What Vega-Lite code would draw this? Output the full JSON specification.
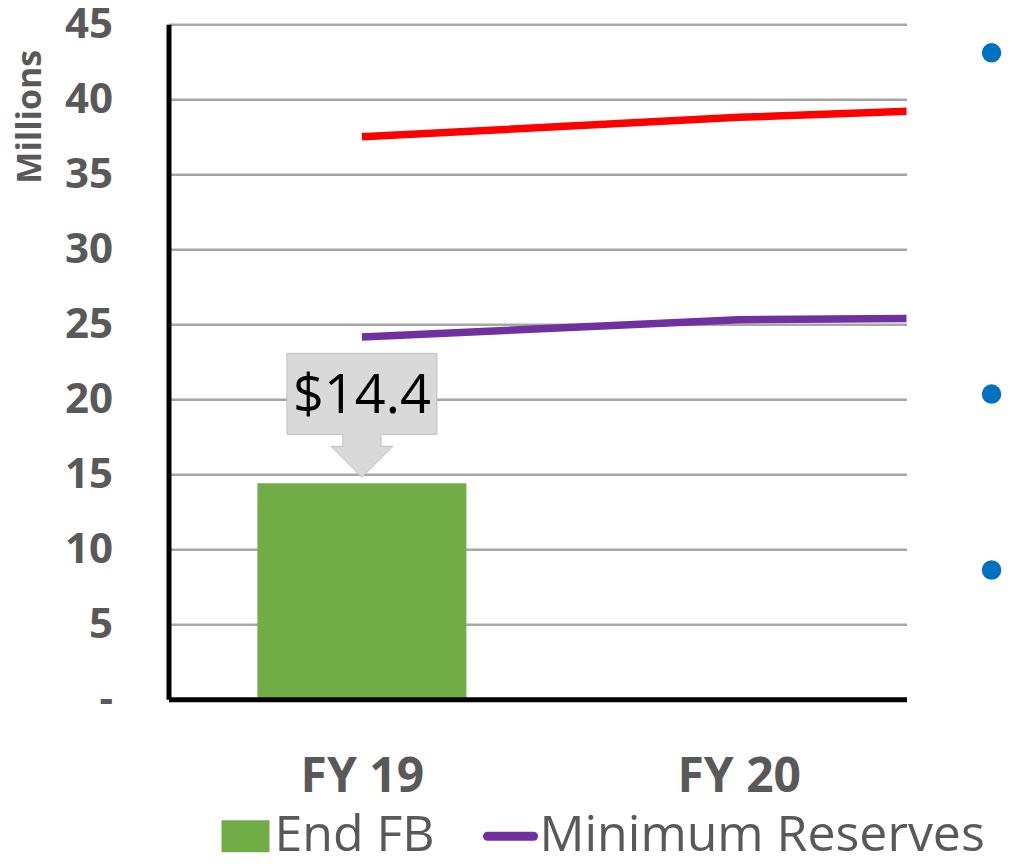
{
  "$schema": "https://vega.github.io/schema/vega-lite/v6.json",
  "width": 738,
  "height": 675,
  "autosize": {"type": "none"},
  "padding": {"left": 168.5, "top": 24.3, "right": 105.5, "bottom": 164.7},
  "background": "white",
  "config": {"view": {"stroke": null}, "font": "Open Sans"},
  "datasets": {
    "chart": [
      {"fy": 19, "series": "End FB", "value": 14.4},
      {"fy": 19, "series": "Minimum Reserves", "value": 24.15},
      {"fy": 20, "series": "Minimum Reserves", "value": 25.3},
      {"fy": 21, "series": "Minimum Reserves", "value": 25.5},
      {"fy": 19, "series": "Maximum Reserves", "value": 37.5},
      {"fy": 20, "series": "Maximum Reserves", "value": 38.8},
      {"fy": 21, "series": "Maximum Reserves", "value": 39.7}
    ],
    "bullets": [
      {"bx": 20.671, "by": 43.1},
      {"bx": 20.671, "by": 20.35},
      {"bx": 20.671, "by": 8.62}
    ]
  },
  "encoding": {
    "x": {
      "field": "fy", "type": "quantitative",
      "scale": {"type": "linear", "domain": [18.5, 20.432], "nice": false, "zero": false},
      "axis": {
        "title": null, "values": [19, 20], "labelExpr": "'FY ' + datum.value",
        "labelFont": "Open Sans", "labelFontSize": 48, "labelFontWeight": "bold", "labelColor": "#595959",
        "labelPadding": 54, "ticks": false, "grid": false, "domainColor": "#000000", "domainWidth": 5,
        "labelFlush": false, "labelOverlap": false, "zindex": 1
      }
    },
    "y": {
      "field": "value", "type": "quantitative",
      "scale": {"domain": [0, 45], "nice": false, "zero": true},
      "axis": {
        "title": "Millions", "values": [0, 5, 10, 15, 20, 25, 30, 35, 40, 45],
        "labelExpr": "datum.value === 0 ? '-\u00a0\u00a0' : datum.label",
        "labelFont": "Open Sans", "labelFontSize": 42, "labelFontWeight": "bold", "labelColor": "#595959",
        "labelPadding": 56, "ticks": false, "domainColor": "#000000", "domainWidth": 5,
        "gridColor": "#a6a6a6", "gridWidth": 2.5, "labelFlush": false, "labelOverlap": false,
        "titleFont": "Open Sans", "titleFontSize": 34, "titleFontWeight": "bold", "titleColor": "#595959",
        "titleAngle": -90, "titleAlign": "right", "titleBaseline": "alphabetic", "titleX": -128.5, "titleY": 25
      }
    }
  },
  "layer": [
    {
      "data": {"name": "chart"},
      "transform": [{"filter": "datum.series === 'End FB'"}],
      "mark": {"type": "bar", "width": 209},
      "encoding": {
        "color": {
          "field": "series", "type": "nominal",
          "scale": {"domain": ["End FB", "Minimum Reserves", "Maximum Reserves"], "range": ["#70ad47", "#7030a0", "#ff0000"]},
          "legend": {
            "values": ["End FB", "Minimum Reserves"], "title": null, "orient": "none", "direction": "horizontal",
            "legendX": 52, "legendY": 787, "labelFont": "Open Sans", "labelFontSize": 50, "labelColor": "#595959",
            "labelLimit": 1000, "labelOffset": 4, "columnPadding": 34, "symbolSize": 3025, "padding": 0,
            "encode": {
              "symbols": {
                "update": {
                  "shape": {"signal": "datum.value === 'End FB' ? 'M-1,-0.667H1V0.667H-1Z' : 'stroke'"},
                  "size": {"signal": "datum.value === 'End FB' ? 2304 : 2116"},
                  "fill": {"signal": "datum.value === 'End FB' ? '#70ad47' : 'transparent'"},
                  "stroke": {"signal": "datum.value === 'End FB' ? 'transparent' : '#7030a0'"},
                  "strokeWidth": {"signal": "datum.value === 'End FB' ? 0 : 9"},
                  "strokeCap": {"value": "round"},
                  "opacity": {"value": 1},
                  "fillOpacity": {"value": 1},
                  "strokeOpacity": {"value": 1}
                }
              }
            }
          }
        }
      }
    },
    {
      "data": {"name": "chart"},
      "transform": [{"filter": "datum.series !== 'End FB'"}],
      "mark": {"type": "line", "strokeWidth": 7.5, "clip": true},
      "encoding": {
        "color": {"field": "series", "type": "nominal"}
      }
    },
    {
      "data": {"name": "chart"},
      "transform": [{"filter": "datum.series === 'End FB'"}],
      "mark": {
        "type": "point", "shape": "M-75,-130H75V-49H19V-37H31L0,-6L-31,-37H-19V-49H-75Z",
        "size": 4, "filled": true, "fill": "#d9d9d9", "stroke": "#bfbfbf", "strokeWidth": 1, "opacity": 1
      },
      "encoding": {}
    },
    {
      "data": {"name": "chart"},
      "transform": [{"filter": "datum.series === 'End FB'"}],
      "mark": {"type": "text", "dy": -86, "fontSize": 54, "font": "Open Sans", "color": "#000000", "baseline": "middle", "align": "center"},
      "encoding": {
        "text": {"field": "value", "type": "quantitative", "format": "$.1f"}
      }
    },
    {
      "data": {"name": "bullets"},
      "mark": {"type": "circle", "size": 380, "opacity": 1, "color": "#0070c0", "clip": false},
      "encoding": {
        "x": {"field": "bx", "type": "quantitative"},
        "y": {"field": "by", "type": "quantitative"}
      }
    }
  ]
}
